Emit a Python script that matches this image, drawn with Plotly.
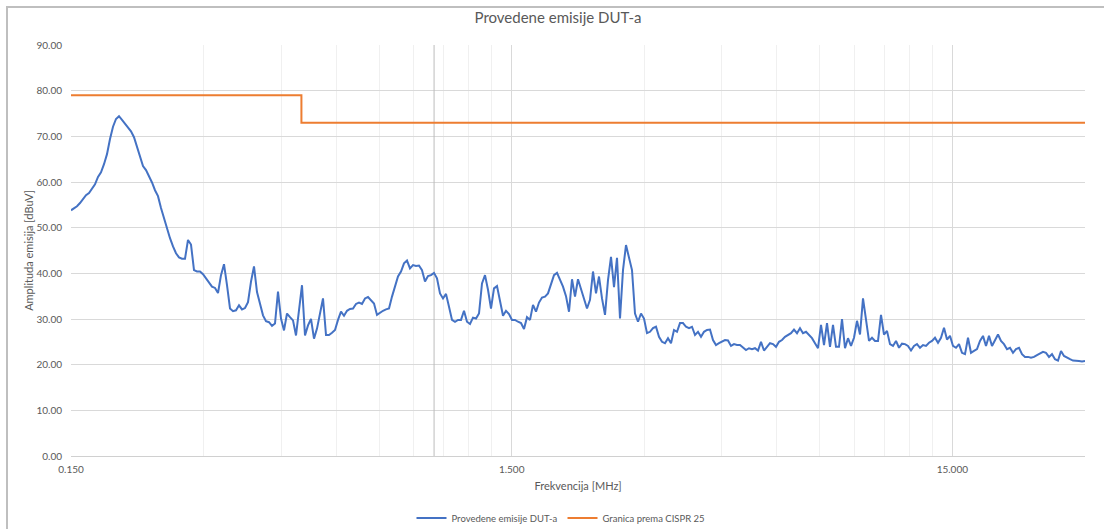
import numpy as np
import plotly.graph_objects as go

# --- Data -----------------------------------------------------------------
# Measurement sweep: log-spaced frequency points from 0.15 MHz to 30 MHz
sweep_start_mhz = 0.15
sweep_stop_mhz = 30.0
sweep_points = 339

emission_dbuv = [
    53.8, 54.2, 54.7, 55.4, 56.2, 57.1, 57.6, 58.6, 59.5, 61.1,
    62.1, 63.9, 66.1, 69.4, 72.1, 73.8, 74.4, 73.6, 72.7, 72.0,
    71.1, 69.8, 67.6, 65.4, 63.5, 62.6, 61.3, 59.9, 58.2, 56.9,
    54.3, 52.1, 49.6, 47.7, 45.9, 44.4, 43.5, 43.2, 43.2, 47.3,
    46.3, 40.7, 40.4, 40.4, 39.8, 38.9, 37.8, 37.1, 36.8, 35.7,
    39.6, 42.0, 37.4, 32.3, 31.7, 31.9, 33.0, 32.1, 32.4, 33.7,
    38.2, 41.5, 35.9, 33.4, 30.8, 29.5, 29.3, 28.5, 29.0, 36.0,
    30.1, 27.5, 31.2, 30.4, 29.7, 26.4, 31.5, 37.4, 26.4, 28.6,
    30.0, 25.7, 27.9, 31.5, 34.5, 26.5,
    26.5, 27.0, 27.6, 29.8, 31.6, 30.7, 31.8, 32.2, 32.3, 33.3,
    33.6, 33.3, 34.5, 34.8, 34.0, 33.4, 30.9, 31.4, 31.8, 32.1,
    32.3, 34.9, 37.4, 39.3, 40.4, 42.2, 42.8, 41.1, 41.8, 41.6,
    41.7, 40.7, 38.2, 39.4, 39.6, 40.1, 38.9, 35.6, 34.5, 35.5,
    32.7, 29.8, 29.4, 29.8, 29.8, 31.8, 29.4, 28.9, 30.3, 30.1,
    31.2, 37.8, 39.6, 36.4, 32.3, 36.7, 37.2, 34.2, 30.7, 31.8,
    31.1, 29.8, 29.8, 29.4, 29.1, 27.8, 30.4, 29.8, 33.1, 31.6,
    33.6, 34.7, 34.9, 35.6, 37.7, 39.6, 40.1, 38.5, 37.1, 35.0,
    31.6, 38.7, 34.9, 38.7, 36.4, 34.2, 32.3,
    34.2, 40.4, 35.6, 39.3, 34.5, 30.9, 38.5, 43.6, 37.0, 43.4,
    30.1, 40.7, 46.2, 43.6, 40.7, 31.2, 29.4, 31.2, 30.1, 26.9,
    27.2, 28.0, 28.3, 26.1, 25.0, 24.7, 25.8, 24.7, 27.6, 27.2,
    29.1, 29.1, 28.3, 28.0, 28.3, 26.5, 27.2, 26.1, 27.2, 27.6,
    27.7, 25.4, 24.3, 24.7, 25.0, 25.4, 25.3, 24.1, 24.5, 24.3,
    24.3, 23.8, 23.2, 23.6, 23.4, 23.6, 23.1, 25.0, 23.1, 23.9,
    24.7, 24.5, 23.9, 25.0, 25.4, 26.1, 26.5, 26.9, 27.7, 26.9,
    28.0, 26.9, 27.2, 26.5, 25.8, 24.7, 23.6, 28.7, 24.3, 29.1,
    23.9, 28.7, 23.9, 23.9, 30.0, 23.6, 25.8,
    24.1, 25.9, 29.6, 26.6, 34.5, 30.3, 25.2, 25.9, 25.2, 25.2,
    30.9, 26.6, 27.4, 24.5, 24.1, 25.2, 23.7, 24.6, 24.5, 24.1,
    23.1, 24.1, 24.5, 23.7, 24.3, 24.1, 24.8, 25.2, 25.9, 24.8,
    25.9, 28.1, 25.5, 26.3, 24.1, 23.7, 24.5, 22.6, 22.3, 25.9,
    22.6, 23.0, 23.4, 25.2, 26.3, 24.1, 26.3, 24.1, 25.5, 26.6,
    25.2, 24.5, 23.4, 23.7, 22.6, 23.4, 23.7, 22.3, 21.7, 21.7,
    21.5, 21.7, 22.1, 22.4, 22.8, 22.6, 21.7, 22.3, 21.2, 20.9,
    23.0, 21.9, 21.5, 21.2, 20.9, 20.9, 20.8, 20.7, 20.8,
]

# CISPR limit line
limit_freq_mhz = [0.15, 0.5, 0.5, 30.0]
limit_dbuv = [79.0, 79.0, 73.0, 73.0]

# Marker line at 1 MHz (darker vertical line in the original)
marker_freq_mhz = [1.0, 1.0]
marker_dbuv = [0.0, 90.0]

# Axis ticks
x_tick_vals = [0.15, 1.5, 15.0]
x_tick_text = ["0.150", "1.500", "15.000"]
x_minor_vals = [0.15 * k * 10 ** n for n in range(3) for k in range(2, 10)
                if 0.15 * k * 10 ** n <= 30.0001]

freq_mhz = np.geomspace(sweep_start_mhz, sweep_stop_mhz, sweep_points)

# --- Figure -----------------------------------------------------------------
W, H = 1104, 529
L, R, T, B = 71, 19, 45, 73
plot_w = W - L - R
plot_h = H - T - B

fig = go.Figure()

fig.add_trace(go.Scatter(
    x=marker_freq_mhz, y=marker_dbuv, mode="lines",
    line=dict(color="#bcbcbc", width=1), showlegend=False, hoverinfo="skip"))

fig.add_trace(go.Scatter(
    x=freq_mhz, y=emission_dbuv, mode="lines",
    name="Provedene emisije DUT-a",
    line=dict(color="#4472C4", width=2)))

fig.add_trace(go.Scatter(
    x=limit_freq_mhz, y=limit_dbuv, mode="lines",
    name="Granica prema CISPR 25",
    line=dict(color="#ED7D31", width=2)))

font_family = "Lato, 'Liberation Sans', Arial, sans-serif"

fig.update_layout(
    width=W, height=H,
    autosize=False,
    margin=dict(l=L, r=R, t=T, b=B, pad=0, autoexpand=False),
    paper_bgcolor="white", plot_bgcolor="white",
    font=dict(family=font_family, color="#595959", size=10),
    title=dict(text="Provedene emisije DUT-a", x=558 / W, xref="container",
               xanchor="center", y=1 - 18 / H, yref="container",
               yanchor="middle", font=dict(size=15, color="#595959")),
    showlegend=True,
    legend=dict(orientation="h", x=(561 - L) / plot_w, xanchor="center",
                y=(H - B - 518) / plot_h, yanchor="middle",
                font=dict(size=9.5, color="#595959"), itemwidth=30,
                bgcolor="rgba(0,0,0,0)"),
    xaxis=dict(
        type="log", automargin=False,
        range=[np.log10(0.15), np.log10(30.0)],
        tickmode="array", tickvals=x_tick_vals, ticktext=x_tick_text,
        showgrid=True, gridcolor="#d9d9d9", gridwidth=1,
        minor=dict(tickmode="array", tickvals=x_minor_vals,
                   showgrid=True, gridcolor="#f0f0f0", gridwidth=1, ticks=""),
        showline=True, linecolor="#d0d0d0", linewidth=1,
        ticks="", ticklabelstandoff=4,
        tickfont=dict(size=10, color="#595959"),
        title=dict(text="Frekvencija [MHz]", standoff=8,
                   font=dict(size=11, color="#595959")),
        zeroline=False,
    ),
    yaxis=dict(
        automargin=False,
        range=[0, 90], dtick=10, tick0=0, tickformat=".2f",
        showgrid=True, gridcolor="#d9d9d9", gridwidth=1,
        showline=False, ticks="", ticklabelstandoff=8,
        tickfont=dict(size=10, color="#595959"),
        title=dict(text="Amplituda emisija [dBuV]", standoff=0,
                   font=dict(size=11, color="#595959")),
        zeroline=False,
    ),
)

# Chart outer border (top-left visible part)
fig.add_shape(type="rect", xref="paper", yref="paper",
              x0=(7 - L) / plot_w, x1=1.2,
              y0=-0.3, y1=(H - B - 7) / plot_h,
              line=dict(color="#bfbfbf", width=2), layer="below")

# remove the default 8px page margin so the figure sits at the window origin
fig.write_html("out.html",
               config={"displayModeBar": False},
               post_script="document.body.style.margin='0';"
                           "document.body.style.overflow='hidden';")
